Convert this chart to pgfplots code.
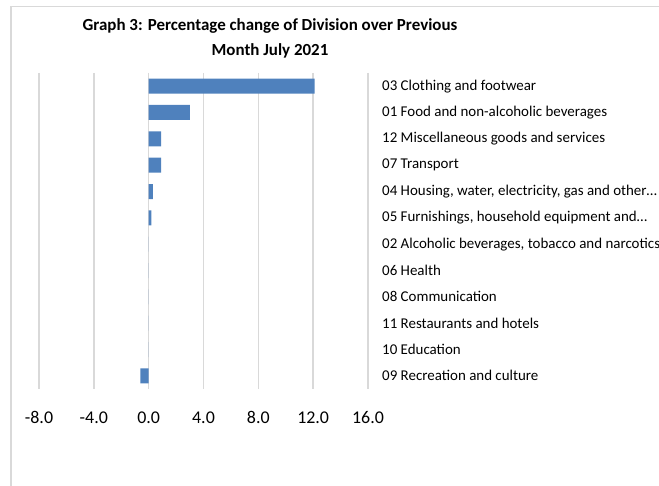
\documentclass[border=0pt]{standalone}
\usepackage{pgfplots}
\pgfplotsset{compat=1.18}
\usepackage{fontspec}
\setmainfont{Carlito}
\definecolor{barblue}{HTML}{4F81BD}
\definecolor{gridgray}{HTML}{D9D9D9}
\pgfplotstableread[col sep=comma]{
idx,val
0,12.1
1,3.0
2,0.9
3,0.9
4,0.3
5,0.2
6,0
7,0
8,0
9,0
10,0
11,-0.6
}\datatable
\begin{document}
\begin{tikzpicture}
\useasboundingbox (0bp,0bp) rectangle (659bp,486bp);
\clip (0bp,0bp) rectangle (659bp,486bp);
\draw[gridgray, line width=1.5bp] (11bp,-10bp) -- (11bp,479.5bp) -- (700bp,479.5bp);
\node[font=\bfseries\fontsize{17}{26}\selectfont, align=center, anchor=base] at (270bp,430bp) {Graph 3: Percentage change of Division over Previous\\Month July 2021};
\begin{axis}[
  at={(39bp,97bp)}, anchor=south west,
  scale only axis, width=329bp, height=316bp,
  xmin=-8, xmax=16,
  ymin=-0.5, ymax=11.5, y dir=reverse,
  axis line style={draw=none},
  xtick={-8,-4,0,4,8,12,16},
  xticklabels={{-8.0},{-4.0},{0.0},{4.0},{8.0},{12.0},{16.0}},
  xticklabel style={font=\fontsize{18}{20}\selectfont, anchor=base, inner sep=0pt, yshift=-34bp},
  xmajorgrids, major grid style={gridgray, line width=1.6bp},
  major tick length=0pt,
  ytick={0,...,11},
  yticklabel pos=right,
  yticklabels={
    {03 Clothing and footwear},
    {01 Food and non-alcoholic beverages},
    {12 Miscellaneous goods and services},
    {07 Transport},
    {04 Housing, water, electricity, gas and other…},
    {05 Furnishings, household equipment and…},
    {02 Alcoholic beverages, tobacco and narcotics},
    {06 Health},
    {08 Communication},
    {11 Restaurants and hotels},
    {10 Education},
    {09 Recreation and culture}},
  yticklabel style={font=\fontsize{15}{17}\selectfont, anchor=west, inner sep=0pt, xshift=14bp},
  clip=false,
]
\addplot[xbar, bar width=15bp, fill=barblue, draw=none] table[x=val, y=idx] {\datatable};
\end{axis}
\end{tikzpicture}
\end{document}
